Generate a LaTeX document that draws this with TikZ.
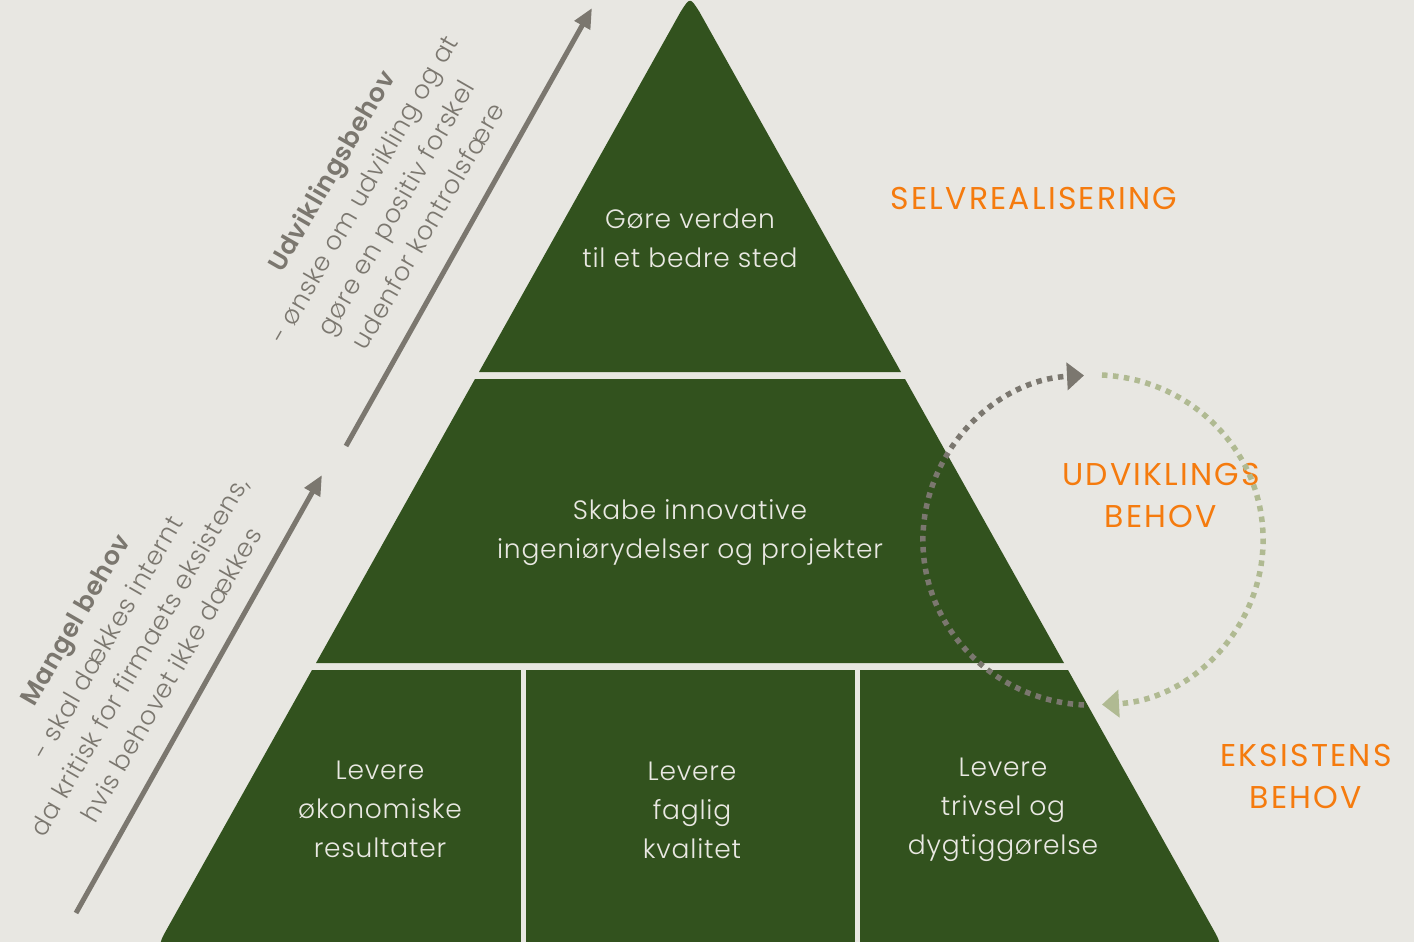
\documentclass[tikz,border=0pt]{standalone}
\usepackage{fontspec}
\setmainfont{Poppins}[UprightFont={* Light},BoldFont={* SemiBold},LetterSpace=3]
\newfontfamily\orgfont{Poppins}[LetterSpace=7]
\usetikzlibrary{arrows.meta}
\definecolor{bgc}{HTML}{E8E7E2}
\definecolor{pgreen}{HTML}{32521E}
\definecolor{ptext}{HTML}{E9E8E2}
\definecolor{agray}{HTML}{7B776F}
\definecolor{orng}{HTML}{F57B0E}
\definecolor{lgreen}{HTML}{B0BA92}
\begin{document}
\begin{tikzpicture}[x=1pt,y=-1pt,
  layer/.style={fill=pgreen},
  gapline/.style={draw=bgc,line width=5pt},
  pyr/.style={text=ptext,align=center,inner sep=0pt,font=\fontsize{26.5}{39}\selectfont},
  org/.style={text=orng,align=center,inner sep=0pt,font=\orgfont\fontsize{31.5}{42}\selectfont},
  side/.style={text=agray,align=center,inner sep=0pt,rotate=60,font=\fontsize{25.5}{37}\selectfont},
  bigarrow/.style={draw=agray,line width=5pt,-{Triangle[length=20pt,width=17pt]}},
  dotgray/.style={draw=agray,line width=5.5pt,dash pattern=on 5.5pt off 5.5pt,-{Triangle[length=17pt,width=27pt]}},
  dotgreen/.style={draw=lgreen,line width=5.5pt,dash pattern=on 5.5pt off 5.5pt,-{Triangle[length=17pt,width=27pt]}}]
\fill[bgc] (0,0) rectangle (1414,942);
\useasboundingbox (0,0) rectangle (1414,942);
% pyramid layers
\fill[layer] (479,372) -- (680.5,12) .. controls (690,-3) .. (699.5,12) -- (901,372) -- cycle;
\fill[layer] (475,379) -- (905,379) -- (1064,663) -- (316,663) -- cycle;
\fill[layer] (312,670) -- (1068,670) -- (1212.5,928) .. controls (1222.6,946) .. (1202,946)
  -- (178,946) .. controls (157.4,946) .. (167.5,928) -- cycle;
\draw[gapline] (523,668) -- (523,950);
\draw[gapline] (857.5,668) -- (857.5,950);
% pyramid texts
\node[pyr] (top) at (690,238) {Gøre verden\\til et bedre sted};
\node[pyr] (mid) at (690,533) {Skabe innovative\\ingeniørydelser og projekter};
\node[pyr] (b1) at (380,809) {Levere\\økonomiske\\resultater};
\node[pyr] (b2) at (692,810) {Levere\\faglig\\kvalitet};
\node[pyr] (b3) at (1003,810) {Levere\\trivsel og\\dygtiggørelse};
% orange labels
\node[org] (selv) at (1034,198) {SELVREALISERING};
\node[org] (udv) at (1161,495) {UDVIKLINGS\\BEHOV};
\node[org] (eks) at (1306,776) {EKSISTENS\\BEHOV};
% side arrows
\coordinate (a1s) at (76,913);
\coordinate (a1e) at (322,475);
\coordinate (a2s) at (346,446);
\coordinate (a2e) at (592,8);
\draw[bigarrow] (a1s) -- (a1e);
\draw[bigarrow] (a2s) -- (a2e);
\node[side] (mangel) at (123,647) {\textbf{Mangel behov}\\- skal dækkes internt\\da kritisk for firmaets eksistens,\\hvis behovet ikke dækkes};
\node[side] (udvb) at (379,198) {\textbf{Udviklingsbehov}\\- ønske om udvikling og at\\gøre en positiv forskel\\udenfor kontrolsfære};
% cycle
\coordinate (cg) at (1084,705);
\coordinate (cl) at (1102,375);
\draw[dotgray] (cg) arc[start angle=267,end angle=93,x radius=170pt,y radius=165pt];
\draw[dotgreen] (cl) arc[start angle=87,end angle=-87,x radius=170pt,y radius=165pt];
\end{tikzpicture}
\end{document}
